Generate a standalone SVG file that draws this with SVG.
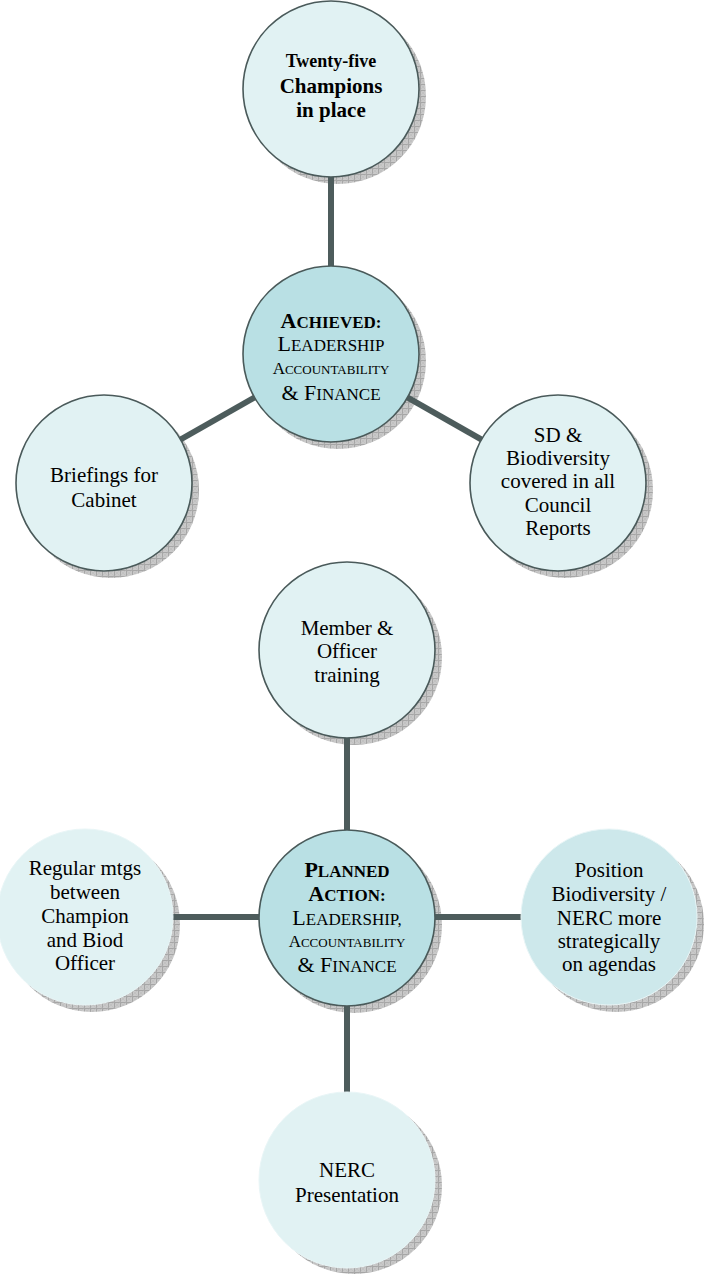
<svg xmlns="http://www.w3.org/2000/svg" width="704" height="1277" viewBox="0 0 704 1277">
<style>
.t{font-family:"Liberation Serif","Times New Roman",serif;fill:#000;text-anchor:middle}
.r{font-size:21px}
.b{font-weight:bold}
.c{font-size:17px}
.C{font-size:22px}
.s{font-size:13px}
.S{font-size:17px}
.shadow{fill:url(#hatch)}
.lt{fill:#e1f2f3}
.dk{fill:#b9e0e4}
.st{stroke:#4a5a5a;stroke-width:1.6}
.ns{stroke:#e9f6f7;stroke-width:1}
.conn line{stroke:#4d5c5c;stroke-width:6}
</style>
<defs>
<pattern id="hatch" width="6" height="6" patternUnits="userSpaceOnUse">
<rect width="6" height="6" fill="#c9c9c9"/>
<path d="M0 0.5H6M0.5 0V6" stroke="#9d9d9d" stroke-width="0.8"/>
<path d="M0 6L6 0M0 0L6 6" stroke="#b5b5b5" stroke-width="0.4"/>
</pattern>
</defs>
<g id="shadows">
<circle class="shadow" cx="338" cy="96" r="88"/>
<circle class="shadow" cx="338" cy="361" r="88"/>
<circle class="shadow" cx="111" cy="490" r="88"/>
<circle class="shadow" cx="565" cy="490" r="88"/>
<circle class="shadow" cx="354" cy="657" r="88"/>
<circle class="shadow" cx="354" cy="925" r="88"/>
<circle class="shadow" cx="92" cy="924" r="88"/>
<circle class="shadow" cx="616" cy="924" r="88"/>
<circle class="shadow" cx="354" cy="1186" r="88"/>
</g>
<g id="connectors" class="conn">
<line x1="331" y1="89" x2="331" y2="354"/>
<line x1="331" y1="354" x2="104" y2="483"/>
<line x1="331" y1="354" x2="558" y2="483"/>
<line x1="347" y1="650" x2="347" y2="918"/>
<line x1="85" y1="917" x2="347" y2="917"/>
<line x1="347" y1="917" x2="609" y2="917"/>
<line x1="347" y1="918" x2="347" y2="1180"/>
</g>
<g id="n1">
<circle class="lt st" cx="331" cy="89" r="88"/>
<text class="t b"><tspan x="331" y="67" style="font-size:18px">Twenty-five</tspan><tspan x="331" y="93" class="r">Champions</tspan><tspan x="331" y="117" class="r">in place</tspan></text>
</g>
<g id="n2">
<circle class="dk st" cx="331" cy="354" r="88"/>
<text class="t"><tspan x="331" y="328" class="b"><tspan class="C">A</tspan><tspan class="S">CHIEVED:</tspan></tspan><tspan x="331" y="351"><tspan class="C">L</tspan><tspan class="S">EADERSHIP</tspan></tspan><tspan x="331" y="374"><tspan class="c">A</tspan><tspan class="s">CCOUNTABILITY</tspan></tspan><tspan x="331" y="400"><tspan class="C">&amp; F</tspan><tspan class="S">INANCE</tspan></tspan></text>
</g>
<g id="n3">
<circle class="lt st" cx="104" cy="483" r="88"/>
<text class="t r"><tspan x="104" y="482">Briefings for</tspan><tspan x="104" y="507">Cabinet</tspan></text>
</g>
<g id="n4">
<circle class="lt st" cx="558" cy="483" r="88"/>
<text class="t r"><tspan x="558" y="442">SD &amp;</tspan><tspan x="558" y="465">Biodiversity</tspan><tspan x="558" y="488">covered in all</tspan><tspan x="558" y="512">Council</tspan><tspan x="558" y="535">Reports</tspan></text>
</g>
<g id="n5">
<circle class="lt st" cx="347" cy="650" r="88"/>
<text class="t r"><tspan x="347" y="635">Member &amp;</tspan><tspan x="347" y="658">Officer</tspan><tspan x="347" y="682">training</tspan></text>
</g>
<g id="n6">
<circle class="dk st" cx="347" cy="918" r="88"/>
<text class="t"><tspan x="347" y="877" class="b"><tspan class="C">P</tspan><tspan class="S">LANNED</tspan></tspan><tspan x="347" y="901" class="b"><tspan class="C">A</tspan><tspan class="S">CTION:</tspan></tspan><tspan x="347" y="925"><tspan class="C">L</tspan><tspan class="S">EADERSHIP,</tspan></tspan><tspan x="347" y="947"><tspan class="c">A</tspan><tspan class="s">CCOUNTABILITY</tspan></tspan><tspan x="347" y="972"><tspan class="C">&amp; F</tspan><tspan class="S">INANCE</tspan></tspan></text>
</g>
<g id="n7">
<circle class="lt ns" cx="85" cy="917" r="88"/>
<text class="t r"><tspan x="85" y="875">Regular mtgs</tspan><tspan x="85" y="899">between</tspan><tspan x="85" y="923">Champion</tspan><tspan x="85" y="947">and Biod</tspan><tspan x="85" y="970">Officer</tspan></text>
</g>
<g id="n8">
<circle cx="609" cy="917" r="88" fill="#cde8eb" class="ns"/>
<text class="t r"><tspan x="609" y="877">Position</tspan><tspan x="609" y="901">Biodiversity /</tspan><tspan x="609" y="925">NERC more</tspan><tspan x="609" y="948">strategically</tspan><tspan x="609" y="971">on agendas</tspan></text>
</g>
<g id="n9">
<circle class="lt ns" cx="347" cy="1180" r="88"/>
<text class="t r"><tspan x="347" y="1177">NERC</tspan><tspan x="347" y="1202">Presentation</tspan></text>
</g>
</svg>
